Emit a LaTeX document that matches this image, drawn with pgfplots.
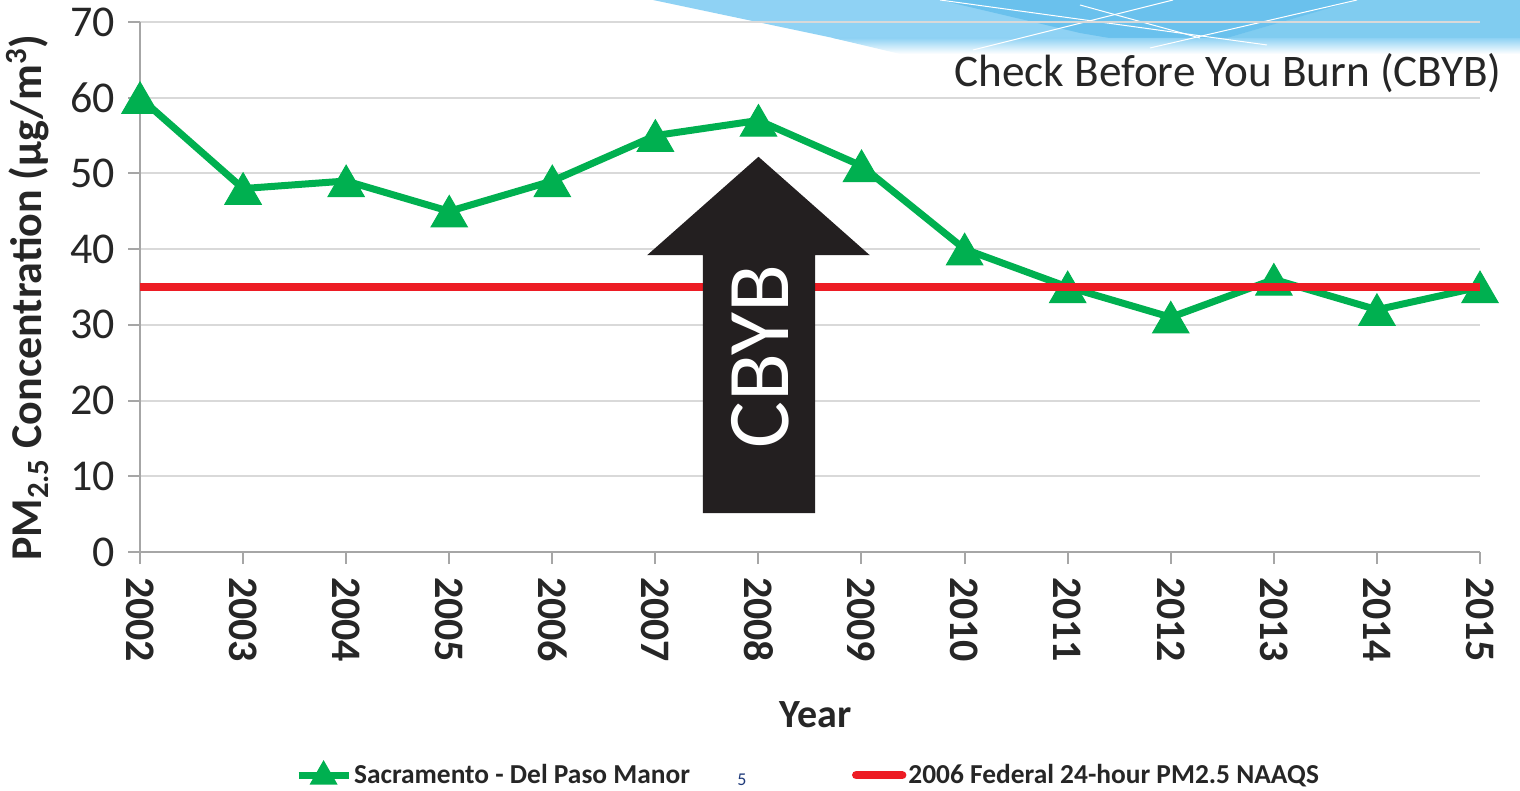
\documentclass[border=0pt]{standalone}
\usepackage{fontspec}
\setmainfont{Carlito}
\usepackage{pgfplots}
\pgfplotsset{compat=1.18}

\definecolor{sacgreen}{HTML}{00B050}
\definecolor{naaqsred}{HTML}{ED1C24}
\definecolor{txt}{HTML}{262626}
\definecolor{arrowblk}{HTML}{231F20}
\definecolor{gridgray}{HTML}{D9D9D9}
\definecolor{axgray}{HTML}{A6A6A6}
\definecolor{skylight}{HTML}{8FD2F4}
\definecolor{skymid}{HTML}{80CCF0}
\definecolor{skydark}{HTML}{6AC1ED}
\definecolor{slideblue}{HTML}{1F3A7A}

\begin{document}
\begin{tikzpicture}
% slide decoration, in pixel units of the 1520x791 picture
\begin{scope}[x=0.5pt, y=-0.5pt, shift={(-70pt,276pt)}]
  \fill[skylight] (653,0) -- (890,50) -- (1480,50) -- (1520,42) -- (1520,0) -- cycle;
  \fill[skymid] (1357,0) -- (1220,40) -- (1520,42) -- (1520,0) -- cycle;
  \fill[skydark] (940,0) -- (1080,33) -- (1150,45) -- (1220,40) -- (1357,0) -- cycle;
  \shade[top color=skylight, bottom color=white] (833,38) -- (1520,38) -- (1520,54) -- (900,54) -- cycle;
  \draw[white, line width=0.5pt] (940,0) -- (1267,45);
  \draw[white, line width=0.5pt] (973,50) -- (1173,0);
  \draw[white, line width=0.5pt] (1150,48) -- (1357,0);
  \draw[white, line width=0.5pt] (1080,5) -- (1200,38);
  \node[text=slideblue, font=\fontsize{9}{9}\selectfont, inner sep=0pt, anchor=south] at (742,786) {5};
\end{scope}

\begin{axis}[
  width=670pt, height=265pt, scale only axis,
  xmin=2002, xmax=2015, ymin=0, ymax=70,
  xtick={2002,...,2015}, ytick={0,10,...,70},
  axis x line*=bottom, axis y line*=left,
  axis line style={axgray, line width=1pt},
  tick style={axgray, line width=1pt},
  tick align=outside, major tick length=6pt,
  ymajorgrids, grid style={gridgray, line width=1pt},
  clip=false, clip marker paths=true,
  /pgf/number format/1000 sep={},
  /pgf/number format/assume math mode=true,
  yticklabel style={font=\fontsize{22}{22}\selectfont, text=txt},
  yticklabel shift=3pt,
  xticklabel style={rotate=-90, anchor=west, font=\fontsize{21}{21}\selectfont\bfseries, text=txt},
  xticklabel shift=3pt,
  ylabel={PM\textsubscript{2.5} Concentration (µg/m\textsuperscript{3})},
  xlabel={Year},
  every axis y label/.style={at={(axis description cs:-0.0836,0.48)}, rotate=90, anchor=center,
    font=\fontsize{22}{22}\selectfont\bfseries, text=txt},
  every axis x label/.style={at={(axis description cs:0.504,-0.3075)}, anchor=center,
    font=\fontsize{20}{20}\selectfont\bfseries, text=txt},
  legend columns=2,
  legend style={at={(axis description cs:0.4985,-0.421)}, anchor=center,
    draw=none, fill=none, font=\fontsize{13.7}{14}\selectfont\bfseries, text=txt,
    nodes={inner xsep=1pt},
    /tikz/every even column/.append style={column sep=80pt}},
]
\addplot[sacgreen, line width=3.5pt, mark=triangle*, mark size=10.5pt,
  mark options={solid, line width=0.5pt, yshift=-2.6pt},
  legend image code/.code={
    \draw[sacgreen, line width=3.5pt] (0pt,0pt) -- (25pt,0pt);
    \fill[sacgreen] (12.5pt,4pt) -- (8.5pt,-3pt) -- (16.5pt,-3pt) -- cycle;}]
  coordinates {
  (2002,60) (2003,48) (2004,49) (2005,45) (2006,49) (2007,55) (2008,57)
  (2009,51) (2010,40) (2011,35) (2012,31) (2013,36) (2014,32) (2015,35)};
\addlegendentry{Sacramento - Del Paso Manor}
\addplot[naaqsred, line width=4.2pt,
  legend image code/.code={
    \draw[naaqsred, line width=4.2pt, line cap=round] (1pt,0pt) -- (24pt,0pt);}]
  coordinates {(2002,35) (2015,35)};
\addlegendentry{2006 Federal 24-hour PM2.5 NAAQS}

% CBYB arrow
\fill[arrowblk] (axis cs:2007.46,5.15) -- (axis cs:2008.55,5.15) -- (axis cs:2008.55,39.2)
  -- (axis cs:2009.08,39.2) -- (axis cs:2008,52.2) -- (axis cs:2006.92,39.2)
  -- (axis cs:2007.46,39.2) -- cycle;
\node[rotate=90, text=white, font=\fontsize{44}{44}\selectfont] at (axis cs:2008.02,25.8) {CBYB};
\end{axis}

\node[anchor=east, text=txt, font=\fontsize{22.6}{23}\selectfont, inner sep=0pt] at (681pt,239.5pt)
  {Check Before You Burn (CBYB)};

\pgfresetboundingbox
\path[use as bounding box] (-70pt,-119.5pt) rectangle (690pt,276pt);
\end{tikzpicture}
\end{document}
